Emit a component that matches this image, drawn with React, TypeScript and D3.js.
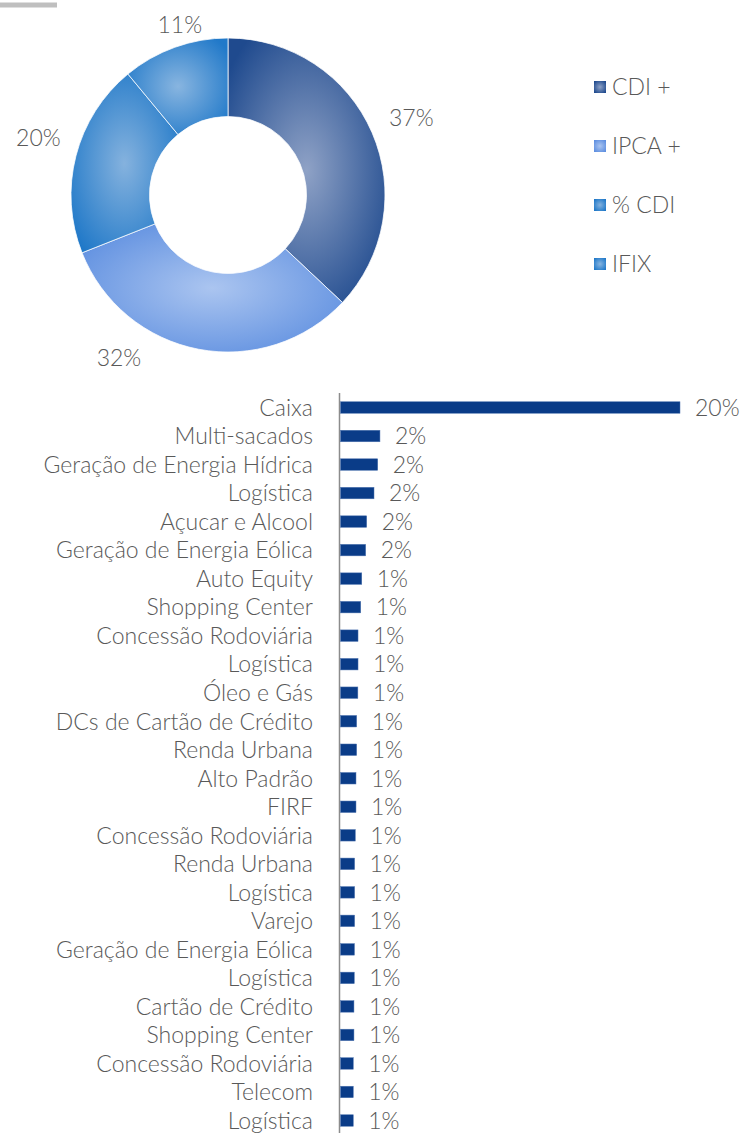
import React from "react";
import * as d3 from "d3";

const pieCategories = ["CDI +", "IPCA +", "% CDI", "IFIX"];
const pieValues = [37, 32, 20, 11];
const pieLabels = ["37%", "32%", "20%", "11%"];

const barCategories = [
  "Caixa",
  "Multi-sacados",
  "Geração de Energia Hídrica",
  "Logística",
  "Açucar e Alcool",
  "Geração de Energia Eólica",
  "Auto Equity",
  "Shopping Center",
  "Concessão Rodoviária",
  "Logística",
  "Óleo e Gás",
  "DCs de Cartão de Crédito",
  "Renda Urbana",
  "Alto Padrão",
  "FIRF",
  "Concessão Rodoviária",
  "Renda Urbana",
  "Logística",
  "Varejo",
  "Geração de Energia Eólica",
  "Logística",
  "Cartão de Crédito",
  "Shopping Center",
  "Concessão Rodoviária",
  "Telecom",
  "Logística",
];
const barValues = [
  20.0, 2.35, 2.22, 2.0, 1.57, 1.51, 1.28, 1.22, 1.06, 1.06, 1.05, 0.98, 0.98,
  0.94, 0.94, 0.9, 0.86, 0.86, 0.86, 0.85, 0.84, 0.82, 0.82, 0.78, 0.78, 0.78,
];
const barLabels = [
  "20%", "2%", "2%", "2%", "2%", "2%", "1%", "1%", "1%", "1%", "1%", "1%", "1%",
  "1%", "1%", "1%", "1%", "1%", "1%", "1%", "1%", "1%", "1%", "1%", "1%", "1%",
];

// layout of the pie's data labels (angle shift in degrees, radius)
const labelShiftDeg = [0.5, 23, 2.3, 4];
const labelRadius = [199, 196, 198, 177];

const gradStops = [
  { c: "#8fa2c6", e: "#1f4a8e" },
  { c: "#abc5f0", e: "#5e8fe0" },
  { c: "#85b2de", e: "#1f78c8" },
  { c: "#88b5e0", e: "#2179c9" },
];

const FONT = "Lato, 'Open Sans', sans-serif";
const TEXT = "#595959";
const FS = 23;
const FW = 300;

export default function App() {
  const W = 751;
  const H = 1133;
  const cx = 228;
  const cy = 195;
  const outerR = 157;
  const innerR = 78.5;

  const pie = d3.pie<number>().sort(null).value((d) => d)(pieValues);
  const arc = d3.arc<d3.PieArcDatum<number>>().innerRadius(innerR).outerRadius(outerR);

  const legendY = d3.scalePoint<number>().domain(d3.range(pieCategories.length)).range([87, 264]);

  const x = d3.scaleLinear().domain([0, 20]).range([340, 680]);
  const y = d3.scalePoint<number>().domain(d3.range(barCategories.length)).range([407.5, 1120.5]);
  const barH = 11.5;

  return (
    <svg width={W} height={H} style={{ position: "absolute", left: 0, top: 0 }} fontFamily={FONT} fontWeight={FW}>
      <defs>
        {gradStops.map((g, i) => (
          <radialGradient id={`g${i}`} key={i} cx="0.5" cy="0.5" r="0.62">
            <stop offset="0%" stopColor={g.c} />
            <stop offset="100%" stopColor={g.e} />
          </radialGradient>
        ))}
      </defs>
      <rect x={0} y={2.5} width={57} height={5} fill="#bfbfbf" />

      <g transform={`translate(${cx},${cy})`}>
        {pie.map((d, i) => (
          <path key={i} d={arc(d) || ""} fill={`url(#g${i})`} stroke="#ffffff" strokeWidth={0.75} />
        ))}
        {pie.map((d, i) => {
          const a = (d.startAngle + d.endAngle) / 2 + (labelShiftDeg[i] * Math.PI) / 180;
          const r = labelRadius[i];
          const lx = r * Math.sin(a);
          const ly = -r * Math.cos(a);
          return (
            <text key={i} x={lx} y={ly} textAnchor="middle" dy="0.36em" fontSize={FS} fill={TEXT}>
              {pieLabels[i]}
            </text>
          );
        })}
      </g>

      {pieCategories.map((c, i) => (
        <g key={c} transform={`translate(594,${legendY(i)})`}>
          <rect x={0} y={-6} width={12} height={12} fill={`url(#g${i})`} />
          <text x={18} y={0} dy="0.36em" fontSize={FS} fill={TEXT}>
            {c}
          </text>
        </g>
      ))}

      <line x1={339.5} x2={339.5} y1={393} y2={H} stroke="#8c8c8c" strokeWidth={1.5} />
      {barValues.map((v, i) => (
        <g key={i}>
          <rect
            x={x(0) + 0.5}
            y={(y(i) as number) - barH / 2}
            width={x(v) - x(0) - 0.5}
            height={barH}
            fill="#0a3c88"
            stroke="#4f74b0"
            strokeWidth={0.5}
          />
          <text x={313} y={y(i)} dy="0.36em" textAnchor="end" fontSize={FS} fill={TEXT}>
            {barCategories[i]}
          </text>
          <text x={x(v) + 15} y={y(i)} dy="0.36em" fontSize={FS} fill={TEXT}>
            {barLabels[i]}
          </text>
        </g>
      ))}
    </svg>
  );
}
